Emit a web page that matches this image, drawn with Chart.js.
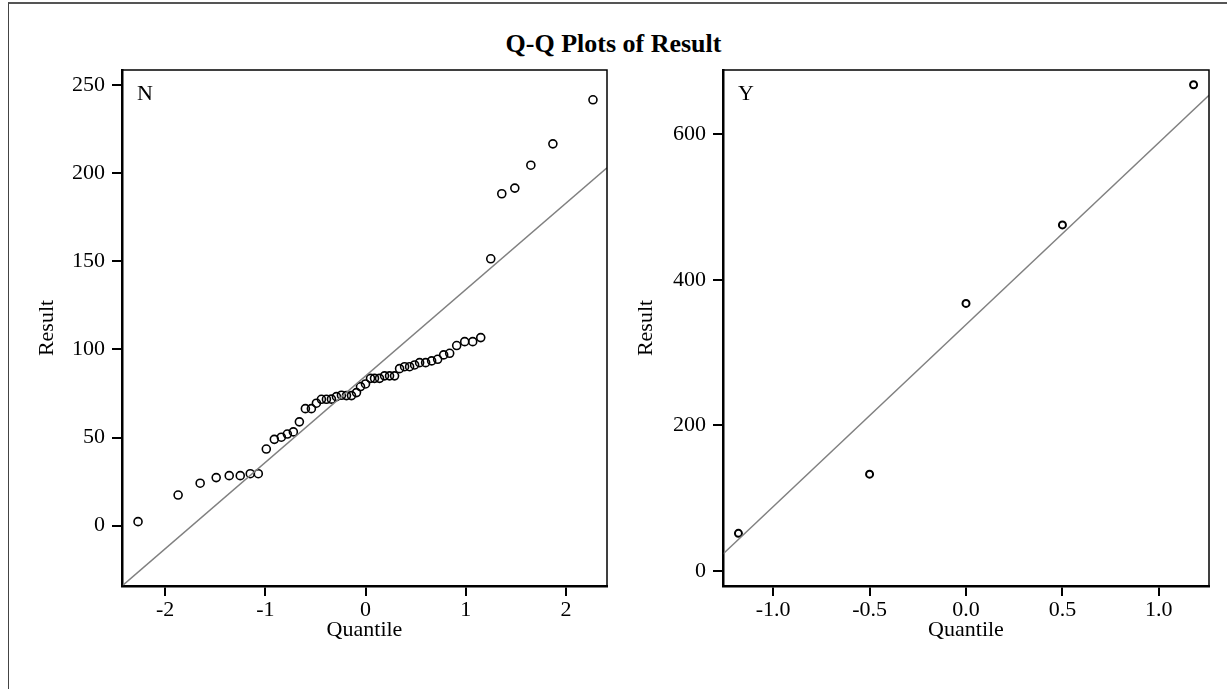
<!DOCTYPE html>
<html>
<head>
<meta charset="utf-8">
<script src="https://cdn.jsdelivr.net/npm/chart.js@4.4.1/dist/chart.umd.min.js"></script>
<style>
  body { margin: 0; background: #fff; width: 1227px; height: 689px; overflow: hidden; position: relative; }
  #frame { position: absolute; left: 8px; top: 2px; width: 1230px; height: 700px; border-left: 1px solid #444; border-top: 2px solid #555; }
  #title { position: absolute; left: 0; width: 1227px; top: 29px; text-align: center;
           font: bold 26px "Liberation Serif", "Times New Roman", serif; color: #000; }
  canvas { position: absolute; top: 0; }
  #wrapN { position: absolute; left: 0; top: 0; width: 615px; height: 689px; }
  #wrapY { position: absolute; left: 615px; top: 0; width: 612px; height: 689px; }
</style>
</head>
<body>
<div id="frame"></div>
<div id="title">Q-Q Plots of Result</div>
<div id="wrapN"><canvas id="chartN"></canvas></div>
<div id="wrapY"><canvas id="chartY"></canvas></div>
<script>
// group N: normal quantiles and sorted Result values
var quantN = [-2.27, -1.87, -1.65, -1.49, -1.36, -1.25, -1.15, -1.07, -0.99, -0.91,
              -0.84, -0.78, -0.72, -0.66, -0.60, -0.54, -0.49, -0.44, -0.39, -0.34,
              -0.29, -0.24, -0.19, -0.14, -0.09, -0.05, 0.00, 0.05, 0.09, 0.14,
              0.19, 0.24, 0.29, 0.34, 0.39, 0.44, 0.49, 0.54, 0.60, 0.66,
              0.72, 0.78, 0.84, 0.91, 0.99, 1.07, 1.15, 1.25, 1.36, 1.49,
              1.65, 1.87, 2.27];
var resultN = [2.3, 17.4, 24.1, 27.3, 28.4, 28.4, 29.5, 29.5, 43.5, 49.0,
               50.2, 52.0, 53.2, 58.9, 66.4, 66.4, 69.5, 71.7, 71.7, 71.8,
               73.2, 74.0, 73.8, 73.8, 75.5, 78.9, 80.4, 83.6, 83.6, 83.6,
               85.0, 85.0, 85.0, 89.1, 90.2, 90.2, 91.2, 92.5, 92.5, 93.5,
               94.4, 96.9, 97.8, 102.2, 104.4, 104.4, 106.7, 151.4, 188.3, 191.5,
               204.5, 216.6, 241.6];
// reference line for N (ends at the plot frame)
var lineNx = [-2.43, 2.41];
var lineNy = [-34.2, 203.0];

// group Y
var quantY = [-1.18, -0.50, 0.00, 0.50, 1.18];
var resultY = [51.7, 133.0, 367.5, 475.3, 667.7];
var lineYx = [-1.26, 1.26];
var lineYy = [23.3, 653.4];

var ticksNx = [-2, -1, 0, 1, 2];
var ticksNy = [0, 50, 100, 150, 200, 250];
var ticksYx = [-1.0, -0.5, 0.0, 0.5, 1.0];
var ticksYy = [0, 200, 400, 600];

var FONT = '"Liberation Serif", "Times New Roman", serif';
var FSIZE = 22;

function pts(xs, ys) {
    return xs.map(function (x, i) { return {x: x, y: ys[i]}; });
}

// box round the plot area plus the group label in the corner
const boxPlugin = {
    id: 'box',
    afterDraw(chart, args, opts) {
        const a = chart.chartArea, ctx = chart.ctx;
        ctx.save();
        ctx.strokeStyle = '#000';
        ctx.lineWidth = 1.5;
        ctx.strokeRect(a.left, a.top, a.right - a.left, a.bottom - a.top);
        ctx.fillStyle = '#000';
        ctx.font = FSIZE + 'px ' + FONT;
        ctx.textBaseline = 'alphabetic';
        ctx.fillText(opts.label, a.left + 15, a.top + 30);
        ctx.restore();
    }
};

function makeChart(id, cfg) {
    return new Chart(document.getElementById(id), {
        type: 'scatter',
        data: {
            datasets: [{
                type: 'line',
                data: pts(cfg.lx, cfg.ly),
                borderColor: '#808080',
                borderWidth: 1.5,
                pointRadius: 0,
                fill: false
            }, {
                data: pts(cfg.qx, cfg.ry),
                pointStyle: 'circle',
                pointRadius: cfg.r,
                borderWidth: cfg.bw,
                borderColor: '#000',
                backgroundColor: 'rgba(0,0,0,0)'
            }]
        },
        options: {
            responsive: false,
            animation: false,
            layout: {padding: cfg.pad},
            plugins: {legend: {display: false}, tooltip: {enabled: false}, box: {label: cfg.label}},
            scales: {
                x: {
                    type: 'linear', min: cfg.xmin, max: cfg.xmax,
                    afterBuildTicks: function (s) { s.ticks = cfg.xt.map(function (v) { return {value: v}; }); },
                    afterFit: function (s) { s.height = 60; },
                    grid: {drawOnChartArea: false, tickLength: 10, color: '#000', lineWidth: 2},
                    border: {color: '#000', width: 2.5},
                    ticks: {color: '#000', font: {family: FONT, size: FSIZE}, padding: 1, maxRotation: 0,
                            callback: function (v) { return cfg.xfmt(v); }},
                    title: {display: true, text: 'Quantile', color: '#000', font: {family: FONT, size: FSIZE}, padding: 3}
                },
                y: {
                    type: 'linear', min: cfg.ymin, max: cfg.ymax,
                    afterBuildTicks: function (s) { s.ticks = cfg.yt.map(function (v) { return {value: v}; }); },
                    afterFit: function (s) { s.width = cfg.yw; },
                    grid: {drawOnChartArea: false, tickLength: 10, color: '#000', lineWidth: 2},
                    border: {color: '#000', width: 2.5},
                    ticks: {color: '#000', font: {family: FONT, size: FSIZE}, padding: 7,
                            callback: function (v) { return String(v); }},
                    title: {display: true, text: 'Result', color: '#000', font: {family: FONT, size: FSIZE}, padding: 4}
                }
            }
        },
        plugins: [boxPlugin]
    });
}

function setSize(id, w, h) {
    const c = document.getElementById(id);
    c.width = w; c.height = h;
    c.style.width = w + 'px'; c.style.height = h + 'px';
}
setSize('chartN', 615, 689);
setSize('chartY', 612, 689);

makeChart('chartN', {
    lx: lineNx, ly: lineNy, qx: quantN, ry: resultN,
    r: 4, bw: 1.6, label: 'N',
    xmin: -2.43, xmax: 2.41, ymin: -34.2, ymax: 258.5,
    xt: ticksNx, yt: ticksNy,
    xfmt: function (v) { return String(v); },
    pad: {left: 30, top: 70, right: 8, bottom: 43},
    yw: 92
});

makeChart('chartY', {
    lx: lineYx, ly: lineYy, qx: quantY, ry: resultY,
    r: 3.5, bw: 2, label: 'Y',
    xmin: -1.26, xmax: 1.26, ymin: -20.6, ymax: 688,
    xt: ticksYx, yt: ticksYy,
    xfmt: function (v) { return v.toFixed(1); },
    pad: {left: 14, top: 70, right: 18, bottom: 43},
    yw: 94
});
</script>
</body>
</html>
